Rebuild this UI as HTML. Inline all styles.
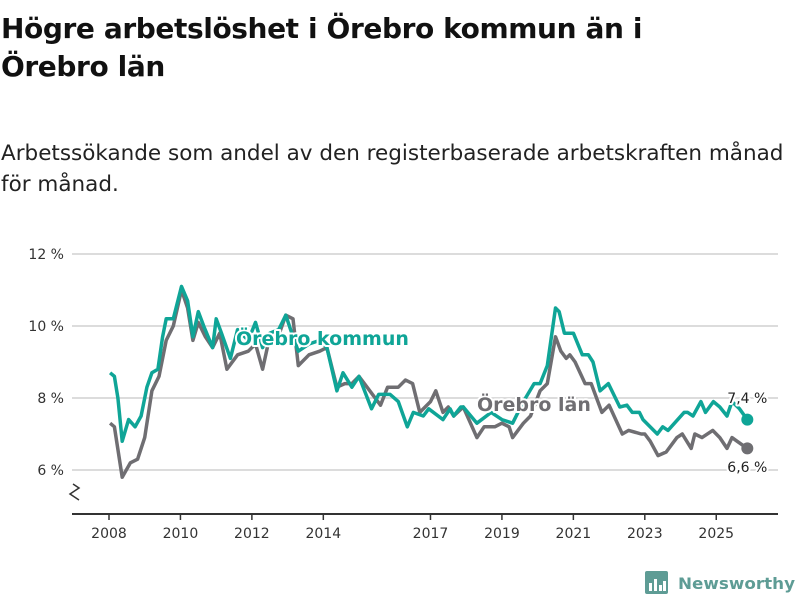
<!DOCTYPE html>
<html><head><meta charset="utf-8"><style>
body{margin:0;background:#fff;font-family:"DejaVu Sans",sans-serif;}
#wrap{position:relative;width:800px;height:600px;overflow:hidden}
h1{position:absolute;left:1px;top:10px;margin:0;font-size:28px;line-height:38px;font-weight:bold;color:#111;width:740px;letter-spacing:-0.4px}
p.sub{position:absolute;left:1px;top:138px;margin:0;font-size:21.5px;line-height:31px;color:#222;width:796px;letter-spacing:0px}
</style></head><body>
<div id="wrap">
<h1>Högre arbetslöshet i Örebro kommun än i Örebro län</h1>
<p class="sub">Arbetssökande som andel av den registerbaserade arbetskraften månad för månad.</p>
<svg id="chart" width="800" height="600" style="position:absolute;left:0;top:0"></svg>
</div>
<script>
const yTicks=[6,8,10,12];
const xTickYears=[2008,2010,2012,2014,2017,2019,2021,2023,2025];
const kommunT=[2008.03,2008.15,2008.25,2008.37,2008.55,2008.73,2008.9,2009.06,2009.2,2009.37,2009.5,2009.6,2009.8,2010.03,2010.2,2010.35,2010.5,2010.65,2010.9,2011.0,2011.15,2011.4,2011.6,2011.9,2012.1,2012.3,2012.5,2012.75,2012.95,2013.15,2013.3,2013.6,2013.9,2014.1,2014.38,2014.55,2014.8,2015.0,2015.35,2015.55,2015.87,2016.1,2016.35,2016.52,2016.8,2016.95,2017.35,2017.55,2017.65,2017.85,2017.92,2018.3,2018.7,2019.0,2019.3,2019.6,2019.9,2020.07,2020.27,2020.5,2020.6,2020.75,2021.0,2021.25,2021.42,2021.55,2021.75,2021.98,2022.3,2022.5,2022.65,2022.85,2022.95,2023.35,2023.5,2023.65,2024.1,2024.2,2024.35,2024.57,2024.7,2024.92,2025.1,2025.3,2025.44,2025.65,2025.87];
const kommunV=[8.7,8.6,8.0,6.8,7.4,7.2,7.5,8.3,8.7,8.8,9.7,10.2,10.2,11.1,10.7,9.7,10.4,10.0,9.4,10.2,9.8,9.1,9.9,9.6,10.1,9.4,9.8,9.9,10.3,9.7,9.3,9.5,9.6,9.4,8.2,8.7,8.3,8.6,7.7,8.1,8.1,7.9,7.2,7.6,7.5,7.7,7.4,7.7,7.5,7.75,7.75,7.3,7.6,7.4,7.3,7.9,8.4,8.4,8.9,10.5,10.4,9.8,9.8,9.2,9.2,9.0,8.2,8.4,7.75,7.8,7.6,7.6,7.4,7.0,7.2,7.1,7.6,7.6,7.5,7.9,7.6,7.9,7.75,7.5,7.9,7.7,7.4];
const lanT=[2008.03,2008.15,2008.37,2008.6,2008.8,2009.0,2009.2,2009.4,2009.6,2009.8,2010.03,2010.2,2010.35,2010.5,2010.7,2010.9,2011.1,2011.3,2011.6,2011.9,2012.1,2012.3,2012.5,2012.7,2012.95,2013.15,2013.3,2013.6,2013.9,2014.1,2014.38,2014.6,2014.8,2015.0,2015.3,2015.6,2015.8,2016.1,2016.3,2016.5,2016.7,2017.0,2017.15,2017.35,2017.5,2017.65,2017.92,2018.3,2018.5,2018.8,2019.0,2019.2,2019.3,2019.6,2019.8,2020.07,2020.27,2020.5,2020.65,2020.8,2020.9,2021.05,2021.33,2021.5,2021.8,2022.0,2022.37,2022.55,2022.9,2023.0,2023.15,2023.37,2023.6,2023.9,2024.05,2024.3,2024.4,2024.6,2024.9,2025.1,2025.3,2025.44,2025.58,2025.87];
const lanV=[7.3,7.2,5.8,6.2,6.3,6.9,8.2,8.6,9.6,10.0,11.0,10.5,9.6,10.1,9.7,9.4,9.8,8.8,9.2,9.3,9.5,8.8,9.7,9.6,10.3,10.2,8.9,9.2,9.3,9.4,8.3,8.4,8.4,8.6,8.2,7.8,8.3,8.3,8.5,8.4,7.6,7.9,8.2,7.6,7.75,7.5,7.75,6.9,7.2,7.2,7.3,7.2,6.9,7.3,7.5,8.2,8.4,9.7,9.3,9.1,9.2,9.0,8.4,8.4,7.6,7.8,7.0,7.1,7.0,7.0,6.8,6.4,6.5,6.9,7.0,6.6,7.0,6.9,7.1,6.9,6.6,6.9,6.8,6.6];
const svg=document.getElementById('chart');
const NS='http://www.w3.org/2000/svg';
const FONT='DejaVu Sans, sans-serif';
function xS(t){return 109+(t-2008)*35.72;}
function yS(v){return 470-(v-6)*36;}
function mk(tag,attrs,parent){const e=document.createElementNS(NS,tag);for(const k in attrs)e.setAttribute(k,attrs[k]);(parent||svg).appendChild(e);return e;}
yTicks.forEach(v=>{
  const l=mk('line',{x1:72,x2:778,y1:yS(v),y2:yS(v),stroke:'#dcdcdc','stroke-width':2});
  
  
  const t=mk('text',{x:64,y:yS(v)+5,'text-anchor':'end','font-size':14,fill:'#333','font-family':FONT});
  t.textContent=v+' %';
  
  
});
const ax=mk('line',{x1:72,x2:778,y1:514,y2:514,stroke:'#333','stroke-width':2});


const brk=mk('path',{d:'M73 484 L79 488 L70 494 L79 500',fill:'none',stroke:'#333','stroke-width':1.5});


xTickYears.forEach(y=>{
  const l=mk('line',{x1:xS(y),x2:xS(y),y1:514,y2:520,stroke:'#333','stroke-width':1.5});
  
  
  const t=mk('text',{x:xS(y),y:538,'text-anchor':'middle','font-size':14,fill:'#333','font-family':FONT});
  t.textContent=y;
  
  
});
function line(T,V,color,name){
  const d=T.map((t,i)=>(i?'L':'M')+xS(t).toFixed(1)+' '+yS(V[i]).toFixed(1)).join(' ');
  const p=mk('path',{d:d,fill:'none',stroke:color,'stroke-width':3.5,'stroke-linejoin':'round'});
  
  
  const c=mk('circle',{cx:xS(T[T.length-1]),cy:yS(V[V.length-1]),r:6,fill:color});
  
  
}
line(lanT,lanV,'#6f6e72','series-orebro-lan');
line(kommunT,kommunV,'#0fa597','series-orebro-kommun');
function lab(x,y,txt,color,size,weight,name,anchor){
  const t=mk('text',{x:x,y:y,'font-size':size,'font-weight':weight,fill:color,stroke:'#fff','stroke-width':4,'paint-order':'stroke','stroke-linejoin':'round','font-family':FONT,'text-anchor':anchor||'start'});
  t.textContent=txt;
  
  
}
lab(236,345,'Örebro kommun','#0fa597',19,'bold','label-orebro-kommun');
lab(477,411,'Örebro län','#6f6e72',19,'bold','label-orebro-lan');
lab(xS(kommunT[kommunT.length-1])+20,403,kommunV[kommunV.length-1].toFixed(1).replace('.',',')+' %','#222',14,'normal','end-value-kommun','end');
lab(xS(lanT[lanT.length-1])+20,472,lanV[lanV.length-1].toFixed(1).replace('.',',')+' %','#222',14,'normal','end-value-lan','end');
const g=mk('g',{});


mk('rect',{x:645,y:571,width:23,height:23,rx:2,fill:'#5e9c95'},g);
[[649,583,3,8],[654,579,3,12],[659,585,3,6],[663,581,3,10]].forEach(r=>mk('rect',{x:r[0],y:r[1],width:r[2],height:r[3],fill:'#fff'},g));
const lt=mk('text',{x:678,y:589,'font-size':16,'font-weight':'bold',fill:'#5e9c95','font-family':FONT,textLength:117,lengthAdjust:'spacingAndGlyphs'},g);
lt.textContent='Newsworthy';
</script>
</body></html>
